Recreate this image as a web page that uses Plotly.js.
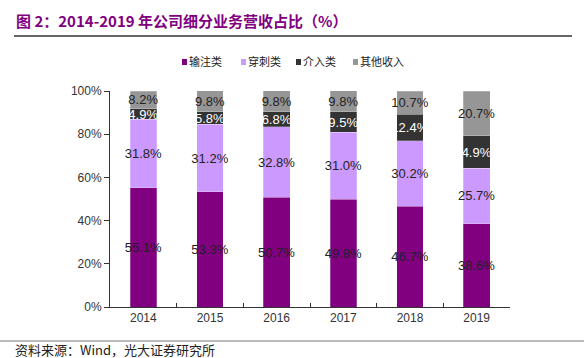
<!DOCTYPE html>
<html>
<head>
<meta charset="utf-8">
<script src="https://cdn.plot.ly/plotly-3.0.1.min.js"></script>
<style>
html,body{margin:0;padding:0;background:#fff;}
#chart{width:584px;height:358px;}
</style>
</head>
<body>
<div id="chart"></div>
<script>
// ---- data ----
var years = ['2014', '2015', '2016', '2017', '2018', '2019'];
var seriesNames = ['输注类', '穿刺类', '介入类', '其他收入'];
var infusion = [55.1, 53.3, 50.7, 49.8, 46.7, 38.6];
var puncture = [31.8, 31.2, 32.8, 31.0, 30.2, 25.7];
var intervention = [4.9, 5.8, 6.8, 9.5, 12.4, 14.9];
var others = [8.2, 9.8, 9.8, 9.8, 10.7, 20.7];
// labels exactly as printed in the source chart
var interventionLabels = ['4.9%', '5.8%', '6.8%', '9.5%', '12.4%', '4.9%'];
var titleText = '图 2：2014-2019 年公司细分业务营收占比（%）';
var sourceText = '资料来源：Wind，光大证券研究所';

var colors = ['#800080', '#cc99ff', '#333333', '#969696'];
var textColors = ['#222222', '#222222', '#ffffff', '#222222'];
var values = [infusion, puncture, intervention, others];

function pct(arr) { return arr.map(function (v) { return v.toFixed(1) + '%'; }); }
var labels = [pct(infusion), pct(puncture), interventionLabels, pct(others)];

var FONT = 'Liberation Sans, Arial, Noto Sans CJK SC, sans-serif';
var CJK = 'Noto Sans CJK SC, sans-serif';

var traces = values.map(function (vals, i) {
  return {
    type: 'bar',
    name: seriesNames[i],
    x: years,
    y: vals,
    text: labels[i],
    textposition: 'inside',
    insidetextanchor: 'middle',
    constraintext: 'none',
    textangle: 0,
    textfont: {family: FONT, size: 13, color: textColors[i]},
    marker: {color: colors[i], line: {color: 'rgba(255,255,255,0.5)', width: 0.5}},
    hoverinfo: 'skip',
    showlegend: false
  };
});

// plot area in pixels: x 110..510, y 91..307
var L = 110, R = 510, T = 91, B = 307;
function px(x) { return (x - L) / (R - L); }
function py(y) { return (B - y) / (B - T); }

var legendMarkX = [182, 241, 296, 353];
var legendTextX = [188, 247, 302, 359];
var annotations = [
  {text: '<b>' + titleText + '</b>', xref: 'paper', yref: 'paper', x: px(14), y: py(20),
   xanchor: 'left', yanchor: 'middle', showarrow: false,
   font: {family: CJK, size: 15, color: '#800080'}},
  {text: sourceText, xref: 'paper', yref: 'paper', x: px(14), y: py(349),
   xanchor: 'left', yanchor: 'middle', showarrow: false, borderpad: 0,
   font: {family: CJK, size: 13, color: '#222222'}}
];
var shapes = [
  {type: 'line', xref: 'paper', yref: 'paper', x0: px(14), x1: px(572), y0: py(36), y1: py(36),
   line: {color: '#333333', width: 1.5}},
  {type: 'line', xref: 'paper', yref: 'paper', x0: px(0), x1: px(584), y0: py(341), y1: py(341),
   line: {color: '#777777', width: 1}}
];
seriesNames.forEach(function (n, i) {
  shapes.push({
    type: 'rect', xref: 'paper', yref: 'paper',
    x0: px(legendMarkX[i]), x1: px(legendMarkX[i] + 5),
    y0: py(59), y1: py(65),
    fillcolor: colors[i], line: {width: 0}
  });
  annotations.push({
    text: n,
    xref: 'paper', yref: 'paper', x: px(legendTextX[i]), y: py(61),
    xanchor: 'left', yanchor: 'middle', showarrow: false, borderpad: 0,
    font: {family: CJK, size: 11, color: '#222222'}
  });
});

var layout = {
  width: 584, height: 358,
  margin: {l: L, r: 584 - R, t: T, b: 358 - B, pad: 0},
  paper_bgcolor: '#ffffff', plot_bgcolor: '#ffffff',
  barmode: 'stack',
  bargap: 0.6,
  showlegend: false,
  font: {family: FONT, size: 12, color: '#333333'},
  xaxis: {
    type: 'category',
    showline: true, linecolor: '#333333', linewidth: 1,
    ticks: 'inside', tickson: 'boundaries', ticklen: 4, tickcolor: '#333333',
    showgrid: false, zeroline: false,
    tickfont: {family: FONT, size: 12, color: '#333333'}
  },
  yaxis: {
    range: [0, 100],
    tickvals: [0, 20, 40, 60, 80, 100],
    ticktext: ['0%', '20%', '40%', '60%', '80%', '100%'],
    showline: true, linecolor: '#333333', linewidth: 1,
    ticks: 'outside', ticklen: 5, tickcolor: '#333333',
    showgrid: false, zeroline: false,
    tickfont: {family: FONT, size: 12, color: '#333333'}
  },
  shapes: shapes,
  annotations: annotations
};

Plotly.newPlot('chart', traces, layout, {displayModeBar: false, staticPlot: true});
</script>
</body>
</html>
